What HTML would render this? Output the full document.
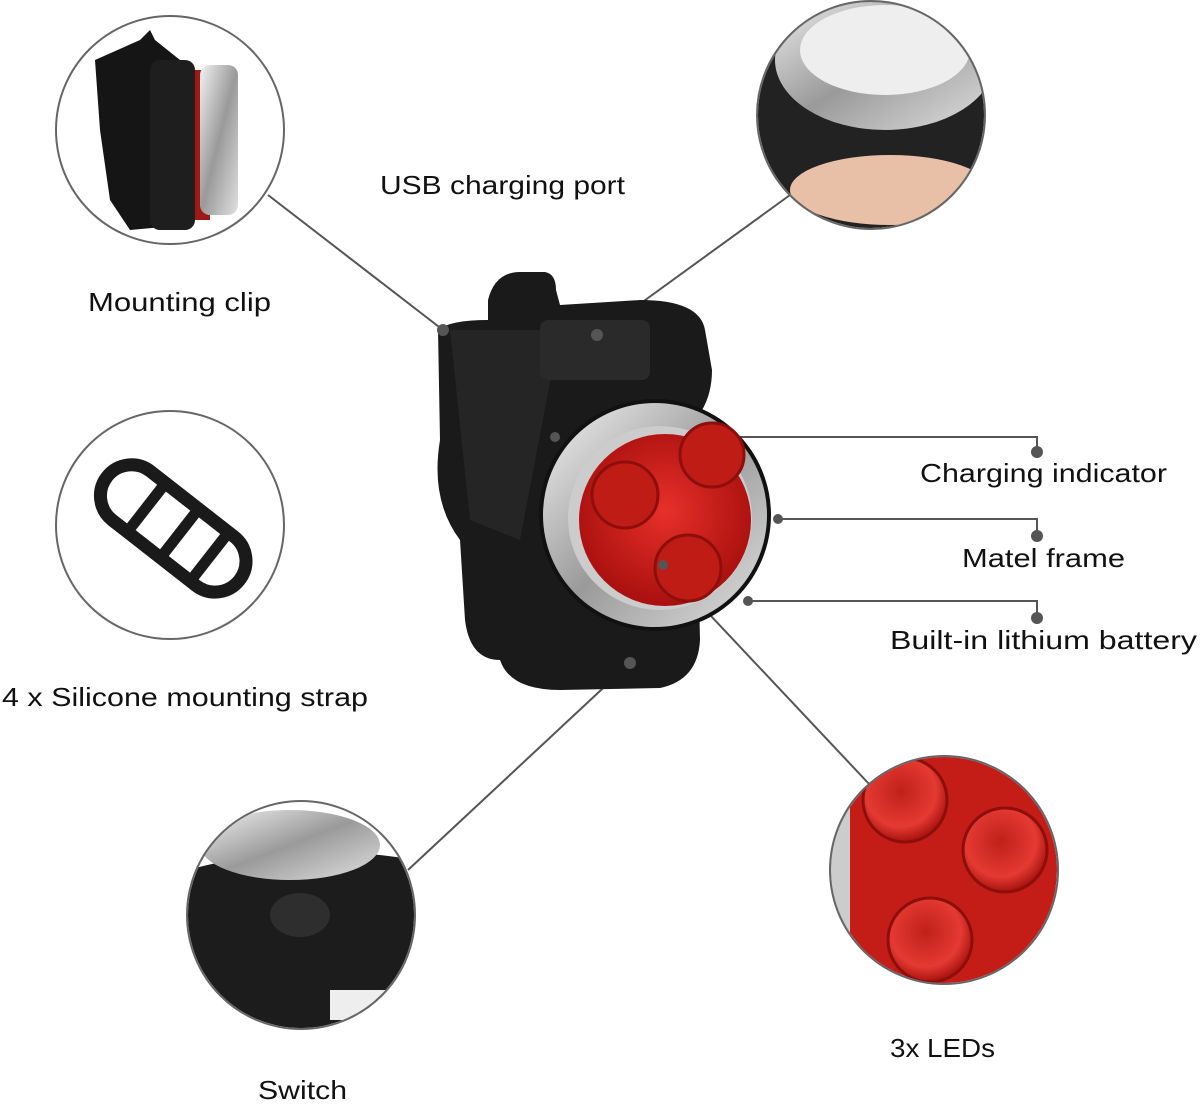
<!DOCTYPE html>
<html><head><meta charset="utf-8"><style>
html,body{margin:0;padding:0;background:#fff;}
svg{display:block}
text{font-family:"Liberation Sans",sans-serif;font-size:26px;fill:#111;}
</style></head><body>
<svg width="1200" height="1104" viewBox="0 0 1200 1104" xmlns="http://www.w3.org/2000/svg">
<defs>
<radialGradient id="red" cx="50%" cy="45%" r="55%"><stop offset="0" stop-color="#e8302a"/><stop offset="1" stop-color="#a8100e"/></radialGradient>
<radialGradient id="led" cx="45%" cy="40%" r="60%"><stop offset="0" stop-color="#c0201a"/><stop offset=".7" stop-color="#e43a32"/><stop offset="1" stop-color="#a8120f"/></radialGradient>
<linearGradient id="silver" x1="0" y1="0" x2="1" y2="1"><stop offset="0" stop-color="#f2f2f2"/><stop offset=".5" stop-color="#9a9a9a"/><stop offset="1" stop-color="#e0e0e0"/></linearGradient>
<clipPath id="c1"><circle cx="170" cy="130" r="113"/></clipPath>
<clipPath id="c2"><circle cx="871" cy="115" r="113"/></clipPath>
<clipPath id="c4"><circle cx="301" cy="915" r="113"/></clipPath>
<clipPath id="c5"><circle cx="944" cy="870" r="113"/></clipPath>
</defs>

<g stroke="#555" stroke-width="2" fill="none">
<line x1="268" y1="195" x2="443" y2="330"/>
<line x1="790" y1="195" x2="597" y2="335"/>
<polyline points="555,437 1037,437 1037,452"/>
<polyline points="778,519 1037,519 1037,536"/>
<polyline points="748,601 1037,601 1037,618"/>
<line x1="630" y1="663" x2="408" y2="870"/>
<line x1="663" y1="565" x2="870" y2="785"/>
</g>

<!-- central device -->
<path d="M488,300 Q495,272 520,272 L545,272 Q556,274 556,290 L560,305 L640,300 Q700,300 705,330 L712,370 Q712,400 695,420 L700,640 Q698,680 660,688 L560,690 Q510,690 500,660 Q470,660 465,620 L460,540 Q430,500 440,440 L438,330 Q450,320 488,320 Z" fill="#1a1a1a"/>
<path d="M450,330 L470,520 L520,540 L560,330 Z" fill="#252525"/>
<rect x="540" y="320" width="110" height="60" rx="8" fill="#2a2a2a"/>
<circle cx="655" cy="515" r="116" fill="#111"/>
<circle cx="655" cy="515" r="112" fill="url(#silver)"/>
<circle cx="660" cy="518" r="92" fill="#ccc"/>
<circle cx="665" cy="520" r="86" fill="url(#red)"/>
<circle cx="625" cy="495" r="33" fill="#c01c16" stroke="#8d0e0b" stroke-width="3"/>
<circle cx="712" cy="455" r="32" fill="#c01c16" stroke="#8d0e0b" stroke-width="3"/>
<circle cx="688" cy="568" r="33" fill="#c01c16" stroke="#8d0e0b" stroke-width="3"/>

<g fill="#555">
<circle cx="443" cy="330" r="6"/><circle cx="597" cy="335" r="6"/>
<circle cx="1037" cy="452" r="6"/><circle cx="1037" cy="536" r="6"/><circle cx="1037" cy="618" r="6"/>
<circle cx="630" cy="663" r="6"/><circle cx="555" cy="437" r="5"/><circle cx="778" cy="519" r="5"/><circle cx="748" cy="601" r="5"/><circle cx="663" cy="565" r="5"/>
</g>

<g clip-path="url(#c1)">
<rect x="57" y="17" width="226" height="226" fill="#fff"/>
<path d="M95,60 L140,40 L150,30 L155,40 L180,60 L185,225 L130,230 L110,200 L100,130 Z" fill="#151515"/>
<rect x="180" y="70" width="30" height="150" fill="#a01815"/>
<rect x="200" y="65" width="38" height="150" rx="10" fill="url(#silver)"/>
<rect x="150" y="60" width="45" height="170" rx="10" fill="#1e1e1e"/>
</g>
<circle cx="170" cy="130" r="114" fill="none" stroke="#666" stroke-width="2"/>

<g clip-path="url(#c2)">
<rect x="757" y="0" width="228" height="230" fill="#222"/>
<ellipse cx="885" cy="60" rx="110" ry="70" fill="url(#silver)"/>
<ellipse cx="885" cy="50" rx="85" ry="45" fill="#eee"/>
<ellipse cx="890" cy="190" rx="100" ry="35" fill="#e8c0a8"/>
</g>
<circle cx="871" cy="115" r="114" fill="none" stroke="#666" stroke-width="2"/>

<circle cx="170" cy="525" r="114" fill="#fff" stroke="#666" stroke-width="2"/>
<g transform="rotate(38 172 530)">
<rect x="88" y="497" width="168" height="62" rx="31" fill="none" stroke="#1a1a1a" stroke-width="13"/>
<line x1="138" y1="497" x2="138" y2="559" stroke="#1a1a1a" stroke-width="11"/>
<line x1="180" y1="497" x2="180" y2="559" stroke="#1a1a1a" stroke-width="11"/>
<line x1="218" y1="497" x2="218" y2="559" stroke="#1a1a1a" stroke-width="11"/>
</g>

<g clip-path="url(#c4)">
<rect x="187" y="801" width="228" height="228" fill="#fff"/>
<path d="M187,870 Q300,840 415,860 L415,1029 L187,1029 Z" fill="#1c1c1c"/>
<ellipse cx="290" cy="845" rx="90" ry="35" fill="url(#silver)"/>
<ellipse cx="300" cy="915" rx="30" ry="22" fill="#2e2e2e"/>
<rect x="330" y="990" width="90" height="30" fill="#eee"/>
</g>
<circle cx="301" cy="915" r="114" fill="none" stroke="#666" stroke-width="2"/>

<g clip-path="url(#c5)">
<rect x="830" y="756" width="228" height="228" fill="#c41d17"/>
<circle cx="905" cy="800" r="42" fill="url(#led)" stroke="#8d0e0b" stroke-width="3"/>
<circle cx="1005" cy="850" r="42" fill="url(#led)" stroke="#8d0e0b" stroke-width="3"/>
<circle cx="930" cy="940" r="42" fill="url(#led)" stroke="#8d0e0b" stroke-width="3"/>
<rect x="830" y="756" width="20" height="228" fill="#ccc"/>
</g>
<circle cx="944" cy="870" r="114" fill="none" stroke="#666" stroke-width="2"/>

<text x="380" y="194" textLength="245" lengthAdjust="spacingAndGlyphs">USB charging port</text>
<text x="88" y="311" textLength="183" lengthAdjust="spacingAndGlyphs">Mounting clip</text>
<text x="920" y="482" textLength="247" lengthAdjust="spacingAndGlyphs">Charging indicator</text>
<text x="962" y="567" textLength="163" lengthAdjust="spacingAndGlyphs">Matel frame</text>
<text x="890" y="649" textLength="307" lengthAdjust="spacingAndGlyphs">Built-in lithium battery</text>
<text x="2" y="706" textLength="366" lengthAdjust="spacingAndGlyphs">4 x Silicone mounting strap</text>
<text x="890" y="1057" textLength="105" lengthAdjust="spacingAndGlyphs">3x LEDs</text>
<text x="258" y="1099" textLength="89" lengthAdjust="spacingAndGlyphs">Switch</text>
</svg>
</body></html>
